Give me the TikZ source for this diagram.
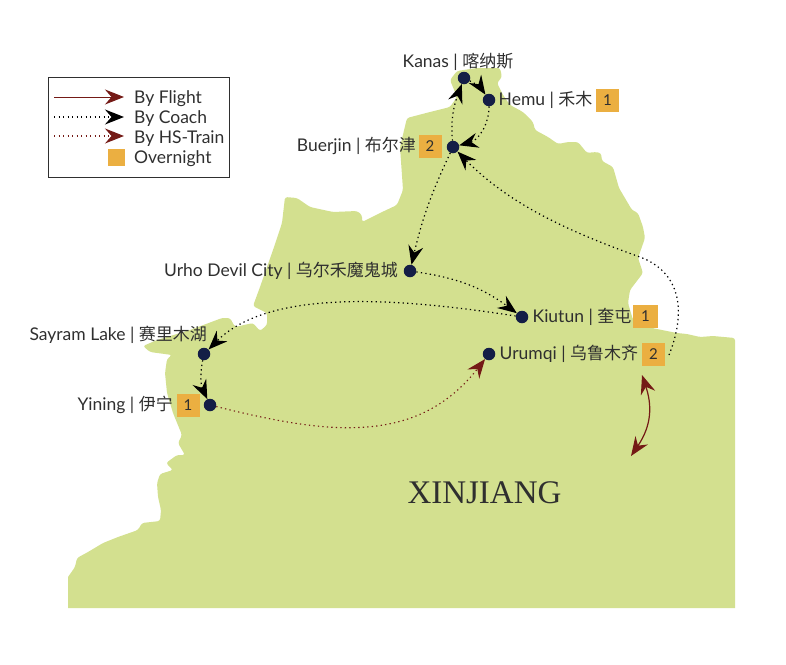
\documentclass[tikz,border=0pt]{standalone}
\usepackage{fontspec}
\setmainfont{Lato}
\newfontfamily\cjk[Scale=0.97]{Noto Sans CJK SC}
\newfontfamily\mapfont{Liberation Serif}
\usetikzlibrary{positioning,arrows.meta}
\definecolor{land}{HTML}{D3E08F}
\definecolor{navy}{HTML}{141E46}
\definecolor{stay}{HTML}{EBAF41}
\definecolor{wine}{HTML}{741A16}
\definecolor{ink}{HTML}{2F2F2F}
\tikzset{>={Stealth[length=19pt,width=15pt,inset=6.5pt]}}
\tikzset{
    stop/.style={circle, fill=navy, inner sep=0pt, minimum size=12.5pt},
    place/.style={font=\fontsize{17.5}{20}\selectfont, text=ink, inner sep=0pt},
    nights/.style={fill=stay, font=\fontsize{15}{17}\selectfont, text=ink, inner sep=0pt, minimum width=23pt, minimum height=23pt},
    coach/.style={->, black, line width=1.2pt, dash pattern=on 1.3pt off 3.2pt},
    flight/.style={->, wine, line width=1.2pt},
    train/.style={->, wine, line width=1.1pt, dash pattern=on 1.3pt off 3.2pt}
}
\begin{document}
\begin{tikzpicture}[x=1pt,y=-1pt]
    \useasboundingbox (0,0) rectangle (786,664);
    % map
    \fill[land, rounded corners=2.5pt] (450,80) -- (457,71) -- (477,68) -- (500,68) -- (502,77) -- (497,83) -- (503,95) -- (510,105)
        -- (523,112) -- (533,122) -- (535,130) -- (548,137) -- (558,144) -- (568,142) -- (578,142) -- (587,153)
        -- (595,152) -- (601,153) -- (602,161) -- (613,167) -- (619,188) -- (632,210) -- (638,213) -- (643,227)
        -- (645,238) -- (638,258) -- (643,273) -- (630,290) -- (628,303) -- (633,320) -- (652,328) -- (667,331)
        -- (677,333) -- (687,334) -- (700,337) -- (713,336) -- (735,338) [sharp corners] -- (735,608) -- (68,608) -- (68,577)
        [rounded corners=2.5pt] -- (75,567) -- (77,558) -- (88,552) -- (103,543) -- (118,537) -- (138,530) -- (142,523) -- (160,521)
        -- (161,510) -- (158,497) -- (157,483) -- (160,474) -- (173,470) -- (166,463) -- (177,455) -- (185,455)
        -- (178,443) -- (182,435) -- (173,413) -- (167,393) -- (165,373) -- (167,359) -- (172,355) -- (150,352)
        -- (143,346) -- (157,340) -- (190,330) -- (222,318) -- (230,318) -- (235,327) -- (253,323) -- (260,331)
        -- (267,325) -- (267,313) -- (253,306) -- (260,287) -- (273,250) -- (282,223) -- (285,197) -- (297,198)
        -- (310,207) -- (333,212) -- (357,211) -- (362,215) -- (362,222) -- (380,213) -- (397,205) -- (403,190)
        -- (400,147) -- (407,118) -- (430,112) -- (450,107) -- (457,97) -- cycle;
    \node[font=\mapfont\fontsize{33}{36}\selectfont, text=ink, inner sep=0pt] (xinjiang) at (484.5,493) {XINJIANG};
    % stops
    \node[stop] (kanas) at (464,78) {};
    \node[stop] (hemu) at (489,100) {};
    \node[stop] (buerjin) at (453,147) {};
    \node[stop] (urho) at (410,271) {};
    \node[stop] (kiutun) at (522,317) {};
    \node[stop] (sayram) at (204,354) {};
    \node[stop] (yining) at (210,405) {};
    \node[stop] (urumqi) at (489,354) {};
    % labels
    \node[place] (kanaslabel) at (458,62) {Kanas | {\cjk 喀纳斯}};
    \node[place, right=3pt of hemu] (hemulabel) {Hemu | {\cjk 禾木}};
    \node[nights] (hemubadge) at (607.5,100) {1};
    \node[place, anchor=east] (buerjinlabel) at (416,146) {Buerjin | {\cjk 布尔津}};
    \node[nights] (buerjinbadge) at (430,146) {2};
    \node[place, anchor=east] (urholabel) at (398,271) {Urho Devil City | {\cjk 乌尔禾魔鬼城}};
    \node[place, right=4pt of kiutun] (kiutunlabel) {Kiutun | {\cjk 奎屯}};
    \node[nights, minimum width=25pt] (kiutunbadge) at (645.5,316.5) {1};
    \node[place, anchor=east] (sayramlabel) at (207,335) {Sayram Lake | {\cjk 赛里木湖}};
    \node[place, anchor=east] (yininglabel) at (173,405) {Yining | {\cjk 伊宁}};
    \node[nights] (yiningbadge) at (188,405) {1};
    \node[place, right=4pt of urumqi] (urumqilabel) {Urumqi | {\cjk 乌鲁木齐}};
    \node[nights] (urumqibadge) at (653.5,354.5) {2};
    % routes
    \draw[coach] (kanas) to[bend left=15] (hemu);
    \draw[coach] (hemu) to[out=-90, in=15] (buerjin);
    \draw[coach] (buerjin) to[out=95, in=-110] (kanas);
    \draw[coach] (buerjin) to[bend right=6] (urho);
    \draw[coach] (urho) to[bend left=14] (kiutun);
    \draw[coach] (kiutun) .. controls (400,298) and (270,288) .. (sayram);
    \draw[coach] (sayram) to[bend right=18] (yining);
    \draw[train] (yining) to[out=-14, in=-128, looseness=1.05] (urumqi);
    \coordinate (loopend) at (669,355);
    \draw[coach] (loopend) .. controls (687,310) and (680,272) .. (640,257) .. controls (570,232) and (510,205) .. (buerjin);
    \coordinate (flightup) at (642,375);
    \coordinate (flightdown) at (631,456);
    \draw[flight, <->] (flightup) .. controls (652,405) and (652,425) .. (flightdown);
    % legend
    \node[draw=ink, line width=1pt, minimum width=181pt, minimum height=100pt, inner sep=0pt] (legend) at (138.5,127) {};
    \node[place, anchor=west] (byflight) at (134,98.5) {By Flight};
    \node[place, anchor=west] (bycoach) at (134,118.5) {By Coach};
    \node[place, anchor=west] (bytrain) at (134,138.5) {By HS-Train};
    \node[place, anchor=west] (overnight) at (134,158.5) {Overnight};
    \node[fill=stay, inner sep=0pt, minimum size=17pt] (staybox) at (116.5,157.5) {};
    \coordinate (flighta) at (54,97);
    \coordinate (flightb) at (124,97);
    \coordinate (coacha) at (54,117);
    \coordinate (coachb) at (124,117);
    \coordinate (traina) at (54,136);
    \coordinate (trainb) at (124,136);
    \draw[flight, line width=1pt] (flighta) -- (flightb);
    \draw[coach] (coacha) -- (coachb);
    \draw[train] (traina) -- (trainb);
\end{tikzpicture}
\end{document}
